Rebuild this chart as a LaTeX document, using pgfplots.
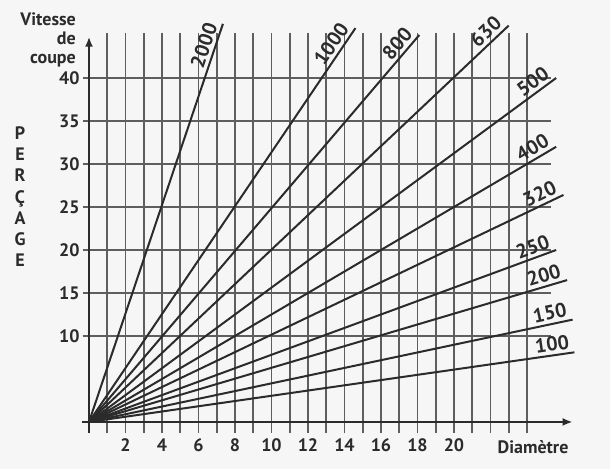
\documentclass[border=0pt]{standalone}
\usepackage{pgfplots}
\pgfplotsset{compat=1.18}
\usetikzlibrary{arrows.meta}
\usepackage{fontspec}
\setmainfont{PT Sans}
\definecolor{ink}{HTML}{2B2B2B}
\definecolor{gridc}{HTML}{5E5E5E}
\definecolor{paper}{HTML}{F6F6F6}
\tikzset{lab/.style={font=\fontsize{10}{11}\selectfont\bfseries, text=ink, inner sep=1.5pt, sloped, anchor=south east, pos=1}}
\begin{document}
\begin{tikzpicture}
\begin{axis}[
  x=9.125pt, y=4.3pt,
  xmin=0, xmax=26.5, ymin=0, ymax=44.8,
  axis lines=left,
  axis on top,
  axis line style={ink, line width=1.1pt, -{Latex[length=5pt,width=4pt]}},
  clip=false,
  xtick={2,4,...,20}, ytick={10,15,...,40},
  major tick length=0pt,
  tick label style={font=\fontsize{9}{10}\selectfont\bfseries, text=ink},
  /pgf/number format/assume math mode=true,
  xticklabel style={anchor=center, yshift=-11.5pt},
  yticklabel style={anchor=east, inner sep=0pt, xshift=-4.5pt},
]
% paper background and page extent
\fill[paper] (axis cs:-4.877,-5.465) rectangle (axis cs:28.55,49.07);
% grid
\foreach \i in {1,...,24} {
  \edef\tmp{\noexpand\draw[gridc, line width=0.8pt] (axis cs:\i,-1.28) -- (axis cs:\i,45.2);}
  \tmp
}
\foreach \j in {10,15,...,40} {
  \edef\tmp{\noexpand\draw[gridc, line width=0.8pt] (axis cs:-0.35,\j) -- (axis cs:25.3,\j);}
  \tmp
}
% axis extensions past the origin
\draw[ink, line width=1.1pt] (axis cs:-0.38,0) -- (axis cs:0,0);
\draw[ink, line width=1.1pt] (axis cs:0,-1.28) -- (axis cs:0,0);
% rays (rotation speeds)
\addplot[ink, line width=1pt] coordinates {(0,0) (7.34,46.3)} node[lab] {2000};
\addplot[ink, line width=1pt] coordinates {(0,0) (14.6,45.8)} node[lab] {1000};
\addplot[ink, line width=1pt] coordinates {(0,0) (18.1,45.0)} node[lab] {800};
\addplot[ink, line width=1pt] coordinates {(0,0) (23.0,46.1)} node[lab] {630};
\addplot[ink, line width=1pt] coordinates {(0,0) (25.6,40.0)} node[lab] {500};
\addplot[ink, line width=1pt] coordinates {(0,0) (25.6,32.0)} node[lab] {400};
\addplot[ink, line width=1pt] coordinates {(0,0) (26.0,26.4)} node[lab] {320};
\addplot[ink, line width=1pt] coordinates {(0,0) (25.6,20.0)} node[lab] {250};
\addplot[ink, line width=1pt] coordinates {(0,0) (26.2,16.5)} node[lab] {200};
\addplot[ink, line width=1pt] coordinates {(0,0) (26.5,11.9)} node[lab] {150};
\addplot[ink, line width=1pt] coordinates {(0,0) (26.6,8.1)} node[lab] {100};
% titles
\node[anchor=east, align=right, inner sep=0pt, text=ink,
      font=\fontsize{9}{9.5}\selectfont\bfseries] at (axis cs:-0.7,44.4) {Vitesse\\de\\coupe};
\node[align=center, inner sep=0pt, text=ink,
      font=\fontsize{9}{10.6}\selectfont\bfseries] at (axis cs:-3.78,26.2) {P\\E\\R\\Ç\\A\\G\\E};
\node[anchor=center, inner sep=0pt, text=ink,
      font=\fontsize{9}{10}\selectfont\bfseries] at (axis cs:24.33,-2.9) {Diamètre};
\end{axis}
\end{tikzpicture}
\end{document}
